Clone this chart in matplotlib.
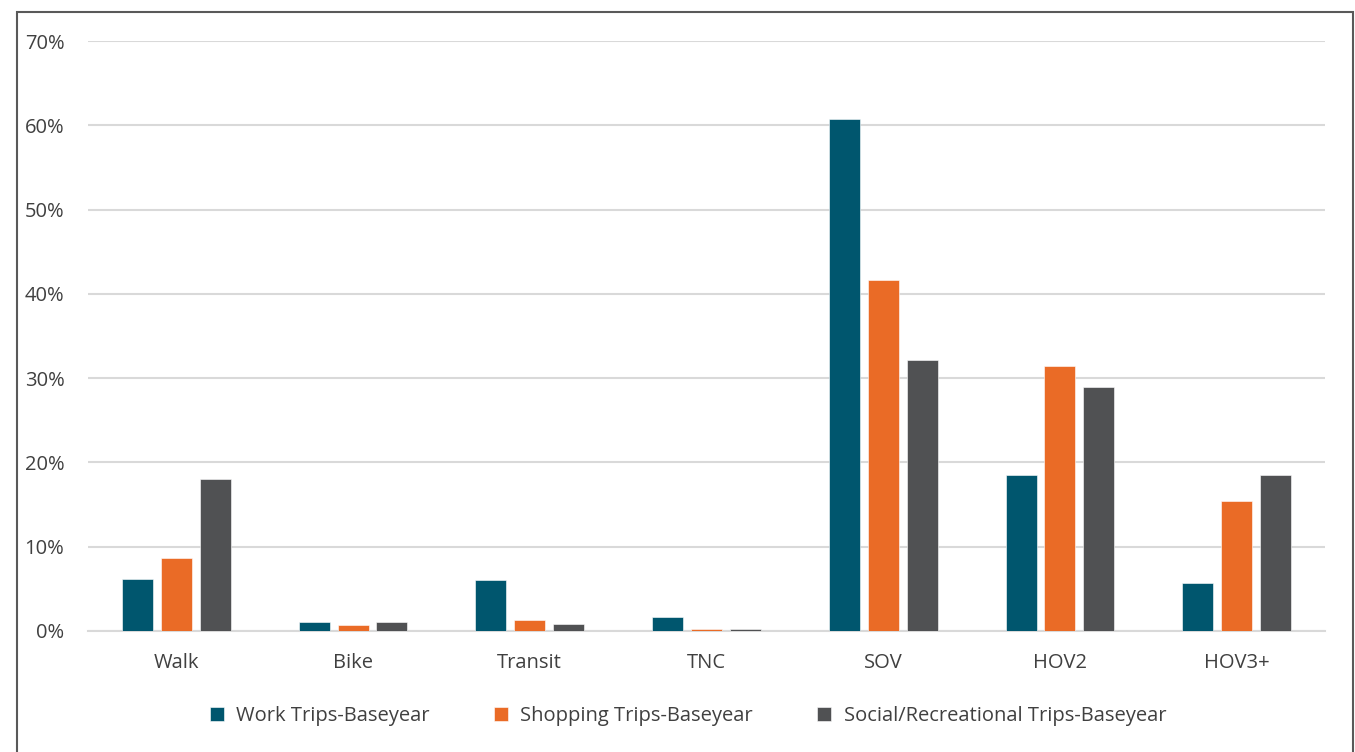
import matplotlib
matplotlib.use('Agg')
import matplotlib.pyplot as plt
from matplotlib.patches import Rectangle
from matplotlib.ticker import FuncFormatter
import numpy as np

# chart data
modes = ['Walk', 'Bike', 'Transit', 'TNC', 'SOV', 'HOV2', 'HOV3+']
work = [6.2, 1.1, 6.0, 1.7, 60.7, 18.5, 5.7]
shopping = [8.7, 0.7, 1.3, 0.2, 41.7, 31.5, 15.4]
social = [18.0, 1.1, 0.85, 0.2, 32.1, 28.9, 18.5]
series_names = ['Work Trips-Baseyear', 'Shopping Trips-Baseyear',
                'Social/Recreational Trips-Baseyear']
colors = ['#00566E', '#EA6B26', '#505153']

plt.rcParams['font.family'] = ['Open Sans', 'DejaVu Sans']

fig = plt.figure(figsize=(13.55, 7.52), dpi=100)
ax = fig.add_axes([88 / 1355, 121 / 752, 1237 / 1355, 590 / 752])

x = np.arange(len(modes))
width = 0.175
step = 0.22
for i, vals in enumerate([work, shopping, social]):
    ax.bar(x + (i - 1) * step, vals, width=width, color=colors[i],
           edgecolor='white', linewidth=0.4, label=series_names[i], zorder=3)

ax.set_xlim(-0.5, len(modes) - 0.5)
ax.set_ylim(0, 70)
ax.set_yticks(range(0, 71, 10))
ax.yaxis.set_major_formatter(FuncFormatter(lambda v, p: '%d%%' % v))
ax.set_xticks(x)
ax.set_xticklabels(modes)
ax.grid(axis='y', color='#d9d9d9', linewidth=1.5, zorder=0)
for s in ['top', 'right', 'left']:
    ax.spines[s].set_visible(False)
ax.spines['bottom'].set_color('#d9d9d9')
ax.spines['bottom'].set_linewidth(1.5)
ax.tick_params(axis='both', length=0, labelsize=14.5, colors='#404040')
ax.tick_params(axis='y', pad=17)
ax.tick_params(axis='x', pad=16)

# legend at the bottom
fig.legend(loc='center', bbox_to_anchor=(688 / 1355, 1 - 716 / 752), ncol=3,
           frameon=False, fontsize=14.5, handlelength=0.7, handleheight=0.7,
           handletextpad=0.6, columnspacing=3.2, labelcolor='#404040')

# outer frame
fig.patches.append(Rectangle((17 / 1355, -0.01), 1336 / 1355, 1 - 12 / 752 + 0.01,
                             transform=fig.transFigure, fill=False,
                             edgecolor='#595959', linewidth=1.5))

fig.savefig('out.png', dpi=100)
